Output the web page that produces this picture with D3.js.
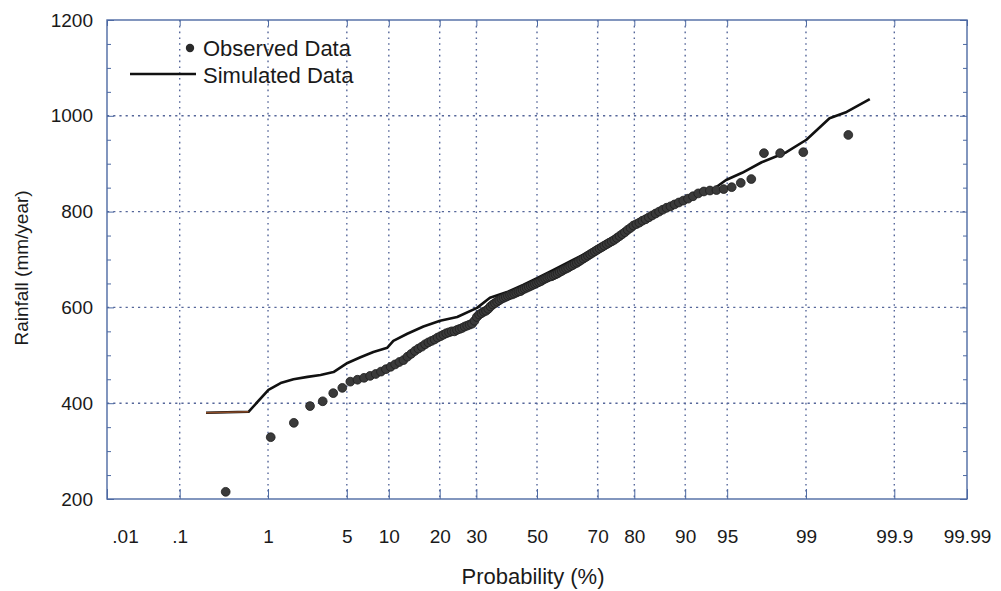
<!DOCTYPE html>
<html>
<head>
<meta charset="utf-8">
<script src="https://cdn.jsdelivr.net/npm/d3@7/dist/d3.min.js"></script>
<style>
  html, body { margin: 0; padding: 0; background: #fff; }
  svg { display: block; font-family: "Liberation Sans", Arial, sans-serif; }
</style>
</head>
<body>
<svg id="chart" width="1001" height="591"></svg>
<script>
// Probability axis ticks (percent) and their printed labels
const probTicks = [0.01, 0.1, 1, 5, 10, 20, 30, 50, 70, 80, 90, 95, 99, 99.9, 99.99];
const probLabels = [".01", ".1", "1", "5", "10", "20", "30", "50", "70", "80", "90", "95", "99", "99.9", "99.99"];

// Rainfall axis ticks (mm/year)
const rainTicks = [200, 400, 600, 800, 1000, 1200];
const rainGrid = [400, 600, 800, 1000];

// Observed annual rainfall, sorted ascending (mm/year)
const observedRain = [
  215, 329, 359, 394, 404, 421, 432,
  445, 449, 453, 457, 461, 466, 471, 476, 481, 486, 490, 497, 503,
  509, 514, 518, 523, 527, 530, 533, 537, 540, 543, 546, 548, 550, 550, 553, 555, 557, 560, 562, 564,
  566, 572, 580, 585, 588, 591, 593, 597, 602, 606, 609, 612, 615, 618, 620, 622, 624, 626, 627, 629,
  631, 633, 634, 637, 639, 641, 643, 645, 647, 649, 651, 653, 655, 658, 660, 662, 664, 665, 667, 669,
  671, 674, 676, 679, 681, 683, 686, 688, 691, 693, 696, 699, 702, 705, 708, 711, 714, 717, 720, 723,
  726, 729, 732, 735, 738, 741, 745, 749, 753, 757, 762, 766, 771, 774, 777, 781, 784, 788, 792, 796,
  800, 804, 808, 811, 815, 819, 823, 827, 832, 838, 842, 844, 845, 847, 851, 860, 868, 922, 922, 924, 960
];

// Simulated distribution: non-exceedance probability (%) and rainfall (mm/year)
const simProb = [0.21, 0.63, 1.01, 1.33, 1.76, 2.36, 3.06, 3.92, 5.06, 6.34, 7.85, 9.78, 10.7, 13.1, 16.3, 20.1,
  24.5, 30.2, 34.2, 39.8, 45.2, 50, 55.5, 62.2, 68.5, 74.4, 79.6, 83.5, 86.9, 89.6, 93.2, 94.9, 96.2, 97.4,
  98.45, 99.01, 99.43, 99.63, 99.80];
const simRain = [380, 382, 428, 442, 450, 455, 459, 465, 484, 496, 507, 516, 530, 545, 560, 572,
  580, 599, 620, 632, 647, 661, 678, 699, 720, 741, 770, 787, 803, 824, 841, 866, 881, 903,
  924, 950, 995, 1008, 1035];

// Inverse standard normal CDF (Acklam's rational approximation)
function probit(p) {
  const a = [-3.969683028665376e+01, 2.209460984245205e+02, -2.759285104469687e+02,
             1.383577518672690e+02, -3.066479806614716e+01, 2.506628277459239e+00];
  const b = [-5.447609879822406e+01, 1.615858368580409e+02, -1.556989798598866e+02,
             6.680131188771972e+01, -1.328068155288572e+01];
  const c = [-7.784894002430293e-03, -3.223964580411365e-01, -2.400758277161838e+00,
             -2.549671010050930e+00, 4.374664141464968e+00, 2.938163982698783e+00];
  const d = [7.784695709041462e-03, 3.224671290700398e-01, 2.445134137142996e+00,
             3.754408661907416e+00];
  const pl = 0.02425, ph = 1 - pl;
  let q, r;
  if (p < pl) {
    q = Math.sqrt(-2 * Math.log(p));
    return (((((c[0]*q+c[1])*q+c[2])*q+c[3])*q+c[4])*q+c[5]) / ((((d[0]*q+d[1])*q+d[2])*q+d[3])*q+1);
  }
  if (p <= ph) {
    q = p - 0.5; r = q * q;
    return (((((a[0]*r+a[1])*r+a[2])*r+a[3])*r+a[4])*r+a[5])*q / (((((b[0]*r+b[1])*r+b[2])*r+b[3])*r+b[4])*r+1);
  }
  q = Math.sqrt(-2 * Math.log(1 - p));
  return -(((((c[0]*q+c[1])*q+c[2])*q+c[3])*q+c[4])*q+c[5]) / ((((d[0]*q+d[1])*q+d[2])*q+d[3])*q+1);
}

const margin = { left: 107, right: 967, top: 20, bottom: 499 };
const svg = d3.select("#chart");

// Normal-probability x scale: linear in the standard normal deviate
const zScale = d3.scaleLinear()
  .domain([probit(0.0001), probit(0.9999)])
  .range([margin.left, margin.right]);
const x = pct => zScale(probit(pct / 100));

const y = d3.scaleLinear().domain([200, 1200]).range([margin.bottom, margin.top]);

const frameColor = "#4d6aa3";
const gridColor = "#56679a";

// Grid lines (dotted)
const grid = svg.append("g");
grid.selectAll("line.v")
  .data(probTicks.slice(1, -1))
  .join("line")
  .attr("x1", d => x(d)).attr("x2", d => x(d))
  .attr("y1", margin.top).attr("y2", margin.bottom)
  .attr("stroke", gridColor).attr("stroke-width", 1.4)
  .attr("stroke-dasharray", "1.6,4.2");
grid.selectAll("line.h")
  .data(rainGrid)
  .join("line")
  .attr("x1", margin.left).attr("x2", margin.right)
  .attr("y1", d => y(d)).attr("y2", d => y(d))
  .attr("stroke", gridColor).attr("stroke-width", 1.4)
  .attr("stroke-dasharray", "2.2,4");

// Axes
const labelFont = 19;
const bottomAxis = d3.axisBottom(zScale)
  .tickValues(probTicks.map(p => probit(p / 100)))
  .tickFormat((d, i) => probLabels[i])
  .tickSizeInner(-10).tickSizeOuter(0).tickPadding(31);
const gB = svg.append("g").attr("transform", `translate(0,${margin.bottom})`).call(bottomAxis);

const topAxis = d3.axisTop(zScale)
  .tickValues(probTicks.map(p => probit(p / 100)))
  .tickFormat("")
  .tickSizeInner(-6).tickSizeOuter(0);
const gT = svg.append("g").attr("transform", `translate(0,${margin.top})`).call(topAxis);

const minorRain = d3.range(250, 1200, 50).filter(v => v % 200 !== 0);
const leftAxis = d3.axisLeft(y).tickValues(rainTicks).tickFormat(d3.format("d"))
  .tickSizeInner(-7).tickSizeOuter(0).tickPadding(14);
const gL = svg.append("g").attr("transform", `translate(${margin.left},0)`).call(leftAxis);
const leftMinor = d3.axisLeft(y).tickValues(minorRain).tickFormat("").tickSizeInner(-4).tickSizeOuter(0);
const gLm = svg.append("g").attr("transform", `translate(${margin.left},0)`).call(leftMinor);

const rightAxis = d3.axisRight(y).tickValues(rainTicks).tickFormat("").tickSizeInner(-7).tickSizeOuter(0);
const gR = svg.append("g").attr("transform", `translate(${margin.right},0)`).call(rightAxis);
const rightMinor = d3.axisRight(y).tickValues(minorRain).tickFormat("").tickSizeInner(-4).tickSizeOuter(0);
const gRm = svg.append("g").attr("transform", `translate(${margin.right},0)`).call(rightMinor);

[gB, gT, gL, gLm, gR, gRm].forEach(g => {
  g.select(".domain").remove();
  g.selectAll(".tick line").attr("stroke", frameColor).attr("stroke-width", 1);
  g.selectAll(".tick text")
    .attr("font-size", labelFont)
    .attr("font-family", "'Liberation Sans', Arial, sans-serif")
    .attr("fill", "#1a1a1a");
});
// the leftmost probability label sits just inside the frame corner
gB.selectAll(".tick text").filter((d, i) => i === 0).attr("dx", 18);

// Frame
svg.append("rect")
  .attr("x", margin.left).attr("y", margin.top)
  .attr("width", margin.right - margin.left).attr("height", margin.bottom - margin.top)
  .attr("fill", "none").attr("stroke", frameColor).attr("stroke-width", 1.4);

// Simulated distribution line
const simData = simProb.map((p, i) => ({ p, v: simRain[i] }));
const line = d3.line().x(d => x(d.p)).y(d => y(d.v));
svg.append("path")
  .datum(simData)
  .attr("d", line)
  .attr("fill", "none")
  .attr("stroke", "#111")
  .attr("stroke-width", 2.6)
  .attr("stroke-linejoin", "round");
// lower flat tail of the simulated curve
svg.append("path")
  .datum(simData.slice(0, 2))
  .attr("d", line)
  .attr("fill", "none")
  .attr("stroke", "#8a4a26")
  .attr("stroke-width", 1.4);

// Observed data, Hazen plotting positions (i - 0.5) / n
const n = observedRain.length;
const obsData = observedRain.map((v, i) => ({ p: 100 * (i + 0.5) / n, v }));
svg.append("g")
  .selectAll("circle")
  .data(obsData)
  .join("circle")
  .attr("cx", d => x(d.p))
  .attr("cy", d => y(d.v))
  .attr("r", 4.4)
  .attr("fill", "#3a3a3a")
  .attr("stroke", "#1e1e1e")
  .attr("stroke-width", 0.8);

// Legend
const legend = svg.append("g").attr("font-size", 22).attr("fill", "#1a1a1a");
legend.append("circle").attr("cx", 190).attr("cy", 48).attr("r", 4.2).attr("fill", "#2a2a2a");
legend.append("text").attr("x", 203).attr("y", 56).text("Observed Data");
legend.append("line").attr("x1", 130).attr("x2", 196).attr("y1", 74).attr("y2", 74)
  .attr("stroke", "#111").attr("stroke-width", 2.6);
legend.append("text").attr("x", 203).attr("y", 83).text("Simulated Data");

// Axis titles
svg.append("text")
  .attr("x", 533).attr("y", 584)
  .attr("text-anchor", "middle")
  .attr("font-size", 22)
  .attr("fill", "#1a1a1a")
  .text("Probability (%)");
svg.append("text")
  .attr("transform", "translate(28,268) rotate(-90)")
  .attr("text-anchor", "middle")
  .attr("font-size", 19)
  .attr("fill", "#1a1a1a")
  .text("Rainfall (mm/year)");
</script>
</body>
</html>
